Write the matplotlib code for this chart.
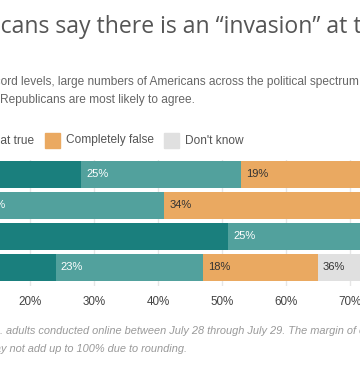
import matplotlib
matplotlib.use("Agg")
import matplotlib.pyplot as plt
from matplotlib.patches import Rectangle

W, H = 360, 391
DPI = 100

groups = ["All", "Democrats", "Republicans", "Independents"]
series = ["Completely true", "Somewhat true", "Completely false", "Don't know"]
values = {
    "Completely true":  [28, 12, 51, 24],
    "Somewhat true":    [25, 29, 25, 23],
    "Completely false": [19, 34, 14, 18],
    "Don't know":       [28, 25, 10, 36],
}
colors = {
    "Completely true": "#1a7f7d",
    "Somewhat true": "#52a19d",
    "Completely false": "#eaa961",
    "Don't know": "#e0e0e0",
}
label_colors = {
    "Completely true": "white",
    "Somewhat true": "white",
    "Completely false": "#333333",
    "Don't know": "#333333",
}
xticks = [0, 10, 20, 30, 40, 50, 60, 70, 80, 90, 100]
xticklabels = [f"{t}%" for t in xticks]

title = "Most Americans say there is an \u201cinvasion\u201d at the southern border"
sub1 = "With border crossings at record levels, large numbers of Americans across the political spectrum"
sub2 = "Republicans are most likely to agree."
foot1 = "Ipsos poll of U.S. adults conducted online between July 28 through July 29. The margin of error"
foot2 = "Figures may not add up to 100% due to rounding."

fig = plt.figure(figsize=(W / DPI, H / DPI), dpi=DPI)
fig.patch.set_facecolor("white")

def fx(px):
    return px / W

def fy(py):
    return 1 - py / H

ax_top, ax_bot = 160, 286
ax = fig.add_axes([0, fy(ax_bot), 1, (ax_bot - ax_top) / H])

body_font = ["Liberation Sans", "DejaVu Sans"]

for gi, g in enumerate(groups):
    left = 0
    for s in series:
        v = values[s][gi]
        ax.barh(gi, v, left=left, height=0.87, color=colors[s], zorder=2)
        ax.text(left + 5 / 6.4, gi, f"{v}%", va="center", ha="left",
                color=label_colors[s], fontsize=8.0, family=body_font, zorder=3,
                clip_on=True)
        left += v

ax.set_xticks(xticks)
ax.set_xticklabels(xticklabels, family=body_font, fontsize=8.4, color="#444444")
# x scale: 20% at 30px, 10% = 64px
ax.set_xlim(20 - 30 / 6.4, 70 + 10 / 6.4)
ax.set_ylim(3.6, -0.46)
ax.tick_params(axis="x", length=0, pad=7)
ax.tick_params(axis="y", left=False, labelleft=False)
ax.grid(axis="x", color="#e6e6e6", linewidth=1, zorder=0)
for sp in ax.spines.values():
    sp.set_visible(False)

renderer = fig.canvas.get_renderer()

def text_width(s, **kw):
    t = fig.text(0, 0, s, **kw)
    w = t.get_window_extent(renderer).width
    t.remove()
    return w

def place_offset(anchor, target_px, py, s, corr=0, **kw):
    prefix = s[:s.index(anchor)] + anchor
    off = text_width(prefix, **kw) - text_width(anchor, **kw)
    fig.text(fx(target_px - off + corr), fy(py), s, ha="left", va="center", **kw)

title_kw = dict(family=["Open Sans", "DejaVu Sans"], fontsize=16.6, color="#555555")
place_offset("cans say", 3, 27, title, corr=-2, **title_kw)

sub_kw = dict(family=body_font, fontsize=8.6, color="#666666")
place_offset("ord levels", 3, 82, sub1, corr=-2, **sub_kw)
fig.text(fx(-0.5), fy(100), sub2, ha="left", va="center", **sub_kw)

# legend
leg_kw = dict(family=body_font, fontsize=8.6, color="#555555")
leg_y = 140.5
sq = 15
fig.text(fx(34), fy(leg_y), "Somewhat true", ha="right", va="center", **leg_kw)
w_sw = text_width("Somewhat true", **leg_kw)
fig.patches.append(Rectangle((fx(34 - w_sw - 6 - sq), fy(leg_y + sq / 2)), fx(sq), sq / H,
                             transform=fig.transFigure, color=colors["Somewhat true"]))
x = 45
for s in ["Completely false", "Don't know"]:
    fig.patches.append(Rectangle((fx(x), fy(leg_y + sq / 2)), fx(sq), sq / H,
                                 transform=fig.transFigure, color=colors[s]))
    fig.text(fx(x + 21), fy(leg_y), s, ha="left", va="center", **leg_kw)
    x = x + 21 + text_width(s, **leg_kw) + 10

foot_kw = dict(family=body_font, fontsize=7.9, color="#999999", style="italic")
place_offset("adults conducted", 6, 331, foot1, **foot_kw)
place_offset("not add", 9, 349, foot2, **foot_kw)

fig.savefig("out.png", dpi=DPI, facecolor="white")
